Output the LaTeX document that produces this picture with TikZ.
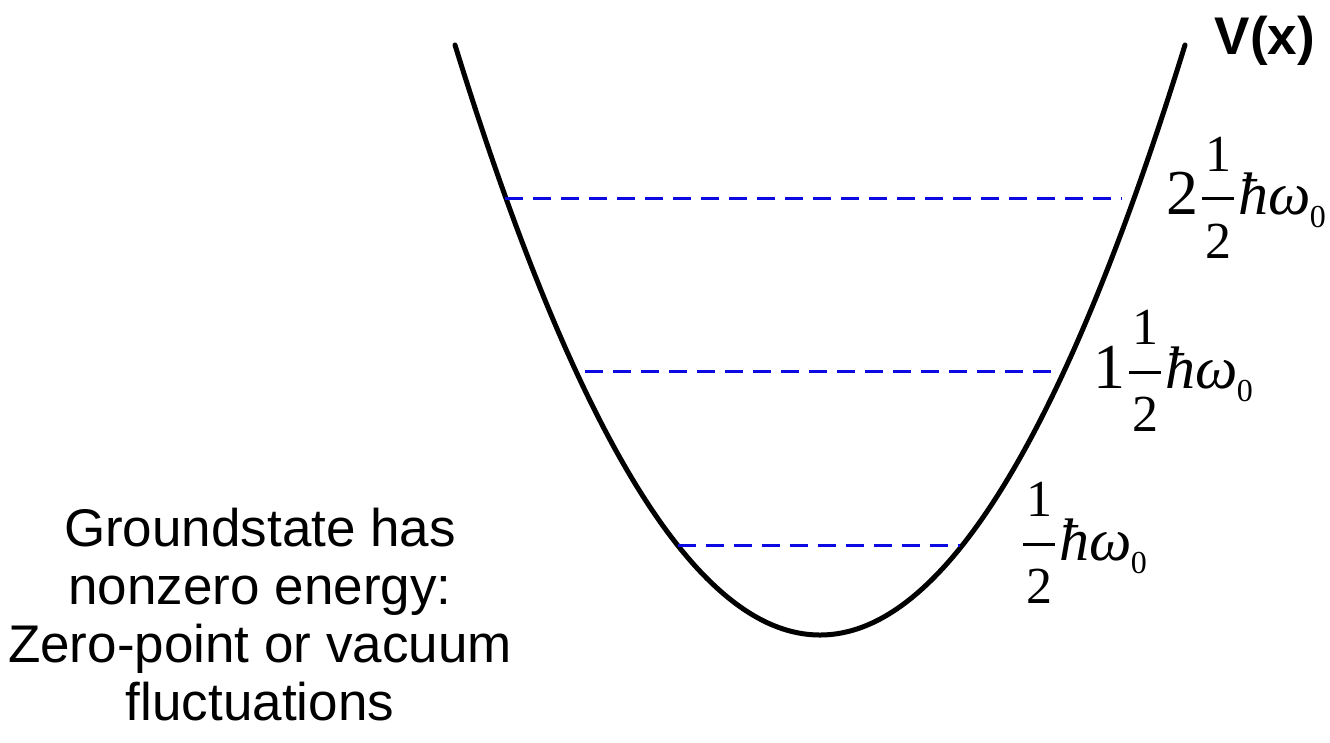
\RequirePackage{fix-cm}
\documentclass[tikz,border=0pt]{standalone}
\usepackage{amsmath}
\usepackage{fontspec}
\setmainfont{Liberation Serif}
\newfontfamily\arialf{Liberation Sans}
\definecolor{lvlblue}{RGB}{10,10,225}
\newcommand{\halffrac}{$\genfrac{}{}{3pt}{0}{\hbox{\fontsize{52}{52}\selectfont\hspace{3pt}1\hspace{3pt}}}{\hbox{\fontsize{52}{52}\selectfont\hspace{3pt}2\hspace{3pt}}}$}
\newcommand{\hbarw}{\hspace{3pt}{\fontsize{60}{60}\selectfont\itshape ħω}\hspace{-1pt}\raisebox{-13pt}{\fontsize{32}{32}\selectfont 0}}
\tikzset{
  potential/.style={line width=5pt, line cap=round},
  lvlline/.style={draw=lvlblue, line width=3pt, dash pattern=on 18pt off 10pt},
  lvllabel/.style={anchor=base west, inner sep=0pt, font=\fontsize{64}{64}\selectfont},
  sanslabel/.style={inner sep=0pt, font=\arialf\fontsize{53}{58}\selectfont},
}
\begin{document}
\begin{tikzpicture}[x=1pt,y=-1pt]
\useasboundingbox (0,0) rectangle (1330,743);
% potential
\coordinate (pl) at (455,45);
\coordinate (pr) at (1185,45);
\draw[potential] (pl) .. controls (698.3,831.7) and (941.7,831.7) .. (pr);
% levels
\coordinate (a2) at (505,199);  \coordinate (b2) at (1122,199);
\coordinate (a1) at (585,371);  \coordinate (b1) at (1052,371);
\coordinate (a0) at (678,545);  \coordinate (b0) at (960,545);
\draw[lvlline] (a2) -- (b2);
\draw[lvlline] (a1) -- (b1);
\draw[lvlline] (a0) -- (b0);
% labels
\node[lvllabel] (l2) at (1166,215) {2\hspace{3pt}\halffrac\hbarw};
\node[lvllabel] (l1) at (1093,388) {1\hspace{3pt}\halffrac\hbarw};
\node[lvllabel] (l0) at (1022,560) {\halffrac\hbarw};
\node[sanslabel, font=\arialf\bfseries\fontsize{53}{58}\selectfont, anchor=base] (vx) at (1265,55) {V(x)};
\node[sanslabel, anchor=base, align=center] (gs) at (260,720) {Groundstate has\\nonzero energy:\\Zero-point or vacuum\\fluctuations};
\end{tikzpicture}
\end{document}
